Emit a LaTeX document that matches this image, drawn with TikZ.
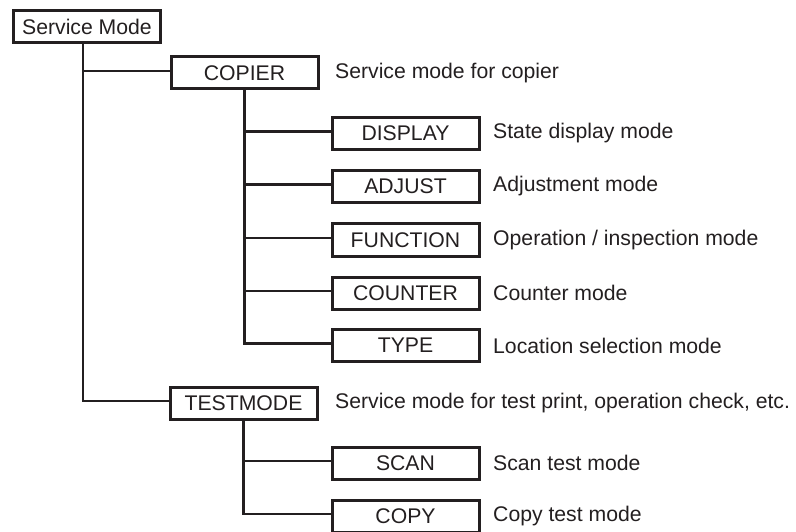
\documentclass[tikz,border=0pt]{standalone}
\usepackage{fontspec}
\setmainfont{Liberation Sans}
\definecolor{ink}{RGB}{35,31,32}
\begin{document}
\begin{tikzpicture}[x=1pt,y=-1pt,
  box/.style={draw=ink,line width=3pt,minimum width=147pt,minimum height=32pt,inner sep=0pt,text=ink,font=\fontsize{21.2}{26}\selectfont},
  desc/.style={anchor=west,inner sep=0pt,text=ink,font=\fontsize{21.2}{26}\selectfont},
  conn/.style={draw=ink,line width=2.3pt}]
\useasboundingbox (0,0) rectangle (796,532);
\node[box] (svc) at (87,26.5) {Service Mode};
\node[box] (copier) at (244.5,73) {COPIER};
\node[box] (display) at (405.5,133.5) {DISPLAY};
\node[box] (adjust) at (405.5,186.5) {ADJUST};
\node[box] (function) at (405.5,240) {FUNCTION};
\node[box] (counter) at (405.5,293) {COUNTER};
\node[box] (type) at (405.5,345.5) {TYPE};
\node[box] (testmode) at (243.5,403) {TESTMODE};
\node[box] (scan) at (405.5,463) {SCAN};
\node[box] (copy) at (405.5,516) {COPY};
\node[desc] (dcopier) at (335,73) {Service mode for copier};
\node[desc] (ddisplay) at (493,133.5) {State display mode};
\node[desc] (dadjust) at (493,186.5) {Adjustment mode};
\node[desc] (dfunction) at (493,240) {Operation / inspection mode};
\node[desc] (dcounter) at (493,293) {Counter mode};
\node[desc] (dtype) at (493,345.5) {Location selection mode};
\node[desc] (dtestmode) at (335,403) {Service mode for test print, operation check, etc.};
\node[desc] (dscan) at (493,463) {Scan test mode};
\node[desc] (dcopy) at (493,516) {Copy test mode};
% main tree
\path[conn] ([xshift=-4pt]svc.south) |- ([yshift=2pt]testmode.west);
\path[conn] ([xshift=-4pt]svc.south) |- ([yshift=2pt]copier.west);
% copier subtree
\path[conn] (copier.south) |- ([yshift=2pt]type.west);
\foreach \n in {display,adjust,function,counter}
  \path[conn] (copier.south) |- ([yshift=2pt]\n.west);
% testmode subtree
\path[conn] (testmode.south) |- ([yshift=2pt]copy.west);
\path[conn] (testmode.south) |- ([yshift=2pt]scan.west);
\end{tikzpicture}
\end{document}
